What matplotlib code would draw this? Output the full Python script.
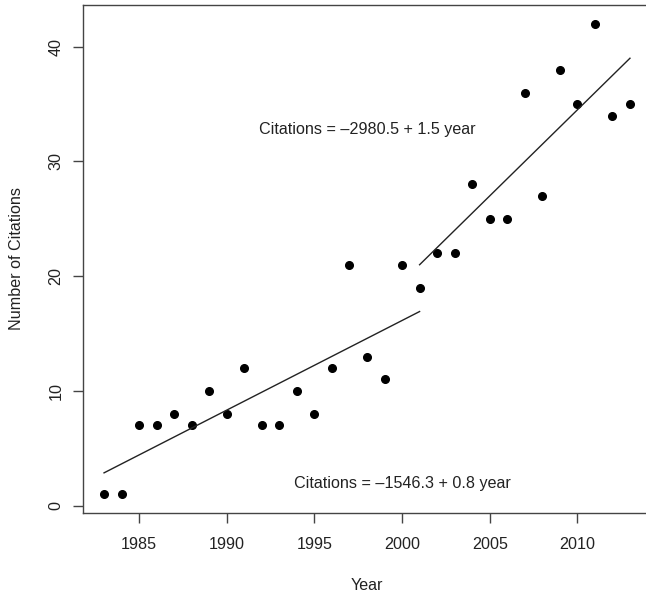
import numpy as np
import matplotlib
matplotlib.use('Agg')
import matplotlib.pyplot as plt

plt.rcParams['font.family'] = ['Liberation Sans', 'DejaVu Sans']

# citations per year
years = np.arange(1983, 2014)
citations = np.array([1, 1, 7, 7, 8, 7, 10, 8, 12, 7, 7, 10, 8, 12, 21, 13, 11,
                      21, 19, 22, 22, 28, 25, 25, 36, 27, 38, 35, 42, 34, 35])

# fit the two periods separately
early = years <= 2000
late = years >= 2002
b1, a1 = np.polyfit(years[early], citations[early], 1)
b2, a2 = np.polyfit(years[late], citations[late], 1)

fig = plt.figure(figsize=(6.46, 5.94), dpi=100)
ax = fig.add_axes([83/646, 1 - 513/594, (651 - 83)/646, (513 - 5)/594])

ax.plot(years, citations, 'o', color='black', ms=5.5)
x1 = np.array([1983, 2001])
ax.plot(x1, a1 + b1 * x1, color='#222222', lw=1)
x2 = np.array([2001, 2013])
ax.plot(x2, a2 + b2 * x2, color='#222222', lw=1)

fs = 11.6
ax.text(1998, 32.8, 'Citations = \u20132980.5 + 1.5 year', ha='center', va='center',
        fontsize=fs, color='#222222')
ax.text(2000, 1.9, 'Citations = \u20131546.3 + 0.8 year', ha='center', va='center',
        fontsize=fs, color='#222222')

ax.set_xlim(1981.8, 2014.2)
ax.set_ylim(-0.64, 43.64)
ax.set_xticks([1985, 1990, 1995, 2000, 2005, 2010])
ax.set_yticks([0, 10, 20, 30, 40])
for s in ax.spines.values():
    s.set_color('#444444')
    s.set_linewidth(1)
ax.tick_params(length=7, width=1, color='#444444', labelsize=fs,
               labelcolor='#222222')
ax.tick_params(axis='x', pad=10)
ax.tick_params(axis='y', pad=7)
for lab in ax.get_yticklabels():
    lab.set_rotation(90)
    lab.set_va('center')
ax.set_xlabel('Year', fontsize=fs, color='#222222', labelpad=19)
ax.set_ylabel('Number of Citations', fontsize=fs, color='#222222', labelpad=18)

fig.savefig('out.png', dpi=100)
